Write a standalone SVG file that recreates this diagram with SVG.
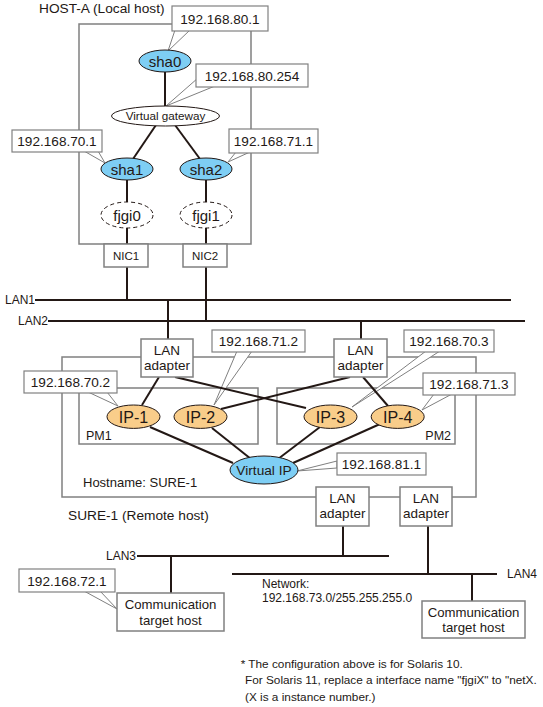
<svg xmlns="http://www.w3.org/2000/svg" width="543" height="707" viewBox="0 0 543 707">
<style>
text{font-family:"Liberation Sans",Arial,sans-serif;fill:#231815}
.frame{fill:none;stroke:#808080;stroke-width:1.5}
.wedge{fill:#fff;stroke:#808080;stroke-width:1}
.lbl{fill:#fff;stroke:#808080;stroke-width:1.2}
.ip{font-size:13.6px;text-anchor:middle}
.c{stroke:#231815;stroke-width:2;fill:none}
.blue{fill:#7ecef4;stroke:#231815;stroke-width:1}
.orange{fill:#f9cd8a;stroke:#231815;stroke-width:1}
.dash{fill:#fff;stroke:#231815;stroke-width:1;stroke-dasharray:4 3}
.box{fill:#fff;stroke:#808080;stroke-width:1.5}
.n15{font-size:15px;text-anchor:middle}
.n16{font-size:16px;text-anchor:middle}
.t13{font-size:13.5px;text-anchor:middle}
.t13c{font-size:13.2px;text-anchor:middle}
.lan{font-size:12px}
.foot{font-size:11.8px}
</style>
<rect width="543" height="707" fill="#fff"/>
<g id="frames">
<path class="frame" d="M79,24 H251 V244 H79 Z"/>
<rect class="frame" x="62" y="357" width="414" height="140"/>
<rect class="frame" x="79" y="388" width="179" height="56"/>
<rect class="frame" x="277" y="388" width="178" height="56"/>
</g>
<g id="titles">
<text x="39" y="13" style="font-size:13.7px">HOST-A (Local host)</text>
<text x="83" y="487" style="font-size:13px">Hostname: SURE-1</text>
<text x="68" y="520" style="font-size:13.7px">SURE-1 (Remote host)</text>
<text x="86" y="440" style="font-size:12.5px">PM1</text>
<text x="451" y="440" style="font-size:12.5px" text-anchor="end">PM2</text>
<text x="262" y="588" class="lan">Network:</text>
<text x="262" y="602" class="lan">192.168.73.0/255.255.255.0</text>
<text x="5" y="304" class="lan">LAN1</text>
<text x="18" y="325" class="lan">LAN2</text>
<text x="106" y="560" class="lan">LAN3</text>
<text x="507" y="578" class="lan">LAN4</text>
<text x="240.7" y="667.5" class="foot">* The configuration above is for Solaris 10.</text>
<text x="245" y="684" class="foot">For Solaris 11, replace a interface name "fjgiX" to "netX.</text>
<text x="245" y="700.5" class="foot">(X is a instance number.)</text>
</g>
<g id="callouts">
<polygon class="wedge" points="175,30 190,30 168,51"/>
<polygon class="wedge" points="198,78 215,86 166,106"/>
<polygon class="wedge" points="84,151 98,151 105,163"/>
<polygon class="wedge" points="236,152 250,152 228,162"/>
<polygon class="wedge" points="237,351 252,351 214,405"/>
<polygon class="wedge" points="426,351 440,351 352,407"/>
<polygon class="wedge" points="434,394 452,394 422,410"/>
<polygon class="wedge" points="88,392 107,392 118,406"/>
<polygon class="wedge" points="337,461 337,468 297,471"/>
<polygon class="wedge" points="84,591 100,591 117,609"/>
</g>
<g id="connectors">
<path class="c" d="M165,72 V106"/>
<path class="c" d="M156,125 L133,159"/>
<path class="c" d="M175,125 L200,159"/>
<path class="c" d="M127,180 V202"/>
<path class="c" d="M206,180 V202"/>
<path class="c" d="M127,228 V244"/>
<path class="c" d="M206,228 V244"/>
<path class="c" d="M127,267 V300"/>
<path class="c" d="M206,267 V321"/>
<path class="c" d="M35,300 H511"/>
<path class="c" d="M48,321 H525"/>
<path class="c" d="M168,300 V339"/>
<path class="c" d="M361,321 V339"/>
<path class="c" d="M159,377 L142,405"/>
<path class="c" d="M175,377 L306,408"/>
<path class="c" d="M350,377 L221,409"/>
<path class="c" d="M363,377 L388,406"/>
<path class="c" d="M150,427 L233,463"/>
<path class="c" d="M212,428 L251,459"/>
<path class="c" d="M320,427 L278,459"/>
<path class="c" d="M380,424 L293,463"/>
<path class="c" d="M343,526 V556"/>
<path class="c" d="M428,526 V574"/>
<path class="c" d="M137,556 H389"/>
<path class="c" d="M232,574 H497"/>
<path class="c" d="M171,556 V593"/>
<path class="c" d="M472,574 V601"/>
</g>
<g id="sha0"><ellipse class="blue" cx="165" cy="61" rx="26" ry="11"/><text class="n15" x="165" y="66.5">sha0</text></g>
<g id="vgw"><ellipse fill="#fff" stroke="#231815" stroke-width="1" cx="165.5" cy="116" rx="54" ry="10"/><text x="165.5" y="120" style="font-size:11.7px" text-anchor="middle">Virtual gateway</text></g>
<g id="sha1"><ellipse class="blue" cx="127" cy="169" rx="26" ry="11"/><text class="n15" x="127" y="174.5">sha1</text></g>
<g id="sha2"><ellipse class="blue" cx="206" cy="169" rx="26" ry="11"/><text class="n15" x="206" y="174.5">sha2</text></g>
<g id="fjgi0"><ellipse class="dash" cx="127" cy="215" rx="26" ry="13"/><text class="n15" x="127" y="220.5">fjgi0</text></g>
<g id="fjgi1"><ellipse class="dash" cx="206" cy="215" rx="26" ry="13"/><text class="n15" x="206" y="220.5">fjgi1</text></g>
<g id="nic1"><rect class="box" x="104" y="244" width="44" height="23"/><text x="126" y="260" style="font-size:11.5px" text-anchor="middle">NIC1</text></g>
<g id="nic2"><rect class="box" x="183" y="244" width="44" height="23"/><text x="205" y="260" style="font-size:11.5px" text-anchor="middle">NIC2</text></g>
<g id="lanadapter1"><rect class="box" x="141" y="339" width="52" height="38"/><text class="t13" x="167" y="355">LAN</text><text class="t13" x="167" y="369.5">adapter</text></g>
<g id="lanadapter2"><rect class="box" x="334" y="339" width="53" height="38"/><text class="t13" x="360.5" y="355">LAN</text><text class="t13" x="360.5" y="369.5">adapter</text></g>
<g id="ip1"><ellipse class="orange" cx="133.5" cy="416.7" rx="26.5" ry="11.7"/><text class="n16" x="133.5" y="422.5">IP-1</text></g>
<g id="ip2"><ellipse class="orange" cx="200.5" cy="416.7" rx="26.5" ry="11.7"/><text class="n16" x="200.5" y="422.5">IP-2</text></g>
<g id="ip3"><ellipse class="orange" cx="330.5" cy="416.7" rx="26.5" ry="11.7"/><text class="n16" x="330.5" y="422.5">IP-3</text></g>
<g id="ip4"><ellipse class="orange" cx="397.7" cy="416.7" rx="26.5" ry="11.7"/><text class="n16" x="397.7" y="422.5">IP-4</text></g>
<g id="vip"><ellipse class="blue" cx="264" cy="470" rx="34" ry="14"/><text x="264" y="475" style="font-size:13.7px" text-anchor="middle">Virtual IP</text></g>
<g id="lanadapter3"><rect class="box" x="316" y="487" width="53" height="39"/><text class="t13" x="342.5" y="503">LAN</text><text class="t13" x="342.5" y="517.5">adapter</text></g>
<g id="lanadapter4"><rect class="box" x="400" y="487" width="52" height="39"/><text class="t13" x="426" y="503">LAN</text><text class="t13" x="426" y="517.5">adapter</text></g>
<g id="target1"><rect class="box" x="117" y="593" width="107" height="38"/><text class="t13c" x="170.5" y="609">Communication</text><text class="t13c" x="170.5" y="624.5">target host</text></g>
<g id="target2"><rect class="box" x="422" y="601" width="103" height="37"/><text class="t13c" x="473.5" y="616.5">Communication</text><text class="t13c" x="473.5" y="632">target host</text></g>
<g id="labels">
<rect class="lbl" x="172" y="6" width="96" height="25"/><text class="ip" x="220" y="23.5">192.168.80.1</text>
<rect class="lbl" x="196" y="64" width="112" height="23"/><text class="ip" x="252" y="80.5">192.168.80.254</text>
<rect class="lbl" x="12" y="130" width="90" height="22"/><text class="ip" x="57" y="146">192.168.70.1</text>
<rect class="lbl" x="229" y="129" width="89" height="24"/><text class="ip" x="273.5" y="146">192.168.71.1</text>
<rect class="lbl" x="212" y="330" width="93" height="22"/><text class="ip" x="258.5" y="346">192.168.71.2</text>
<rect class="lbl" x="404" y="330" width="90" height="22"/><text class="ip" x="449" y="346">192.168.70.3</text>
<rect class="lbl" x="24" y="371" width="93" height="22"/><text class="ip" x="70.5" y="387">192.168.70.2</text>
<rect class="lbl" x="423" y="373" width="92" height="22"/><text class="ip" x="469" y="389">192.168.71.3</text>
<rect class="lbl" x="337" y="453" width="89" height="22"/><text class="ip" x="381.5" y="469">192.168.81.1</text>
<rect class="lbl" x="19" y="569" width="96" height="23"/><text class="ip" x="67" y="585.5">192.168.72.1</text>
</g>
</svg>
